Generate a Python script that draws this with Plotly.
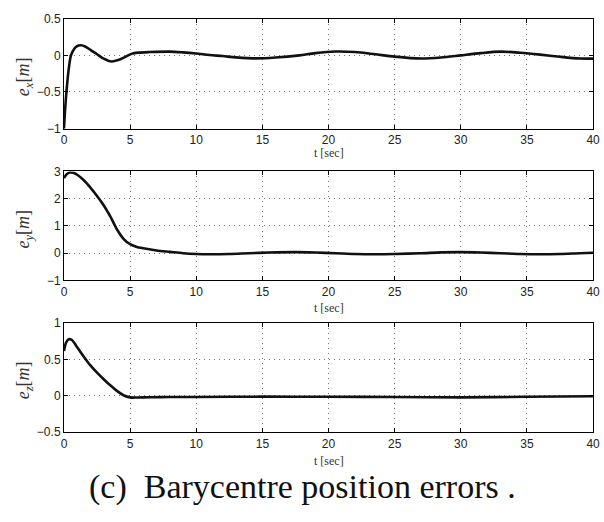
import plotly.graph_objects as go

# ---- data ----
t_x = [0, 0.1, 0.2, 0.3, 0.4, 0.5, 0.65, 0.85, 1.1, 1.3, 1.6, 2.0, 2.5, 3.0, 3.6, 4.1, 4.6, 5.1, 5.6,
       6.5, 8, 9, 10, 11, 12, 13, 14.5, 16, 17.8, 19, 20.5, 22, 23.5, 25, 27, 28.5, 30, 31.5, 33,
       34.5, 36, 37.5, 39, 40]
e_x = [-1.0, -0.7, -0.47, -0.28, -0.13, -0.02, 0.05, 0.105, 0.133, 0.138, 0.12, 0.075, 0.015, -0.045,
       -0.084, -0.065, -0.025, 0.02, 0.037, 0.045, 0.05, 0.04, 0.025, 0.005, -0.01, -0.028, -0.042,
       -0.03, 0.0, 0.03, 0.052, 0.045, 0.015, -0.018, -0.044, -0.03, 0.0, 0.03, 0.05, 0.035, 0.01,
       -0.02, -0.044, -0.045]

t_y = [0, 0.2, 0.45, 0.7, 1.0, 1.5, 2.0, 2.5, 3.0, 3.5, 4.0, 4.5, 5.0, 5.5, 6, 7, 8, 9, 10, 11,
       12.5, 14, 15.5, 17.5, 19, 20.5, 22, 23.5, 25, 27, 28.5, 30, 31.5, 33, 34.5, 36, 37.5, 39, 40]
e_y = [2.76, 2.9, 2.96, 2.95, 2.88, 2.68, 2.41, 2.1, 1.76, 1.35, 0.88, 0.53, 0.33, 0.23, 0.18, 0.1,
       0.05, 0.0, -0.03, -0.04, -0.03, 0.0, 0.025, 0.04, 0.025, 0.0, -0.03, -0.04, -0.03, 0.0, 0.03,
       0.04, 0.025, 0.0, -0.03, -0.04, -0.03, 0.0, 0.015]

t_z = [0, 0.15, 0.35, 0.6, 1.0, 1.5, 2.0, 2.5, 3.0, 3.5, 4.0, 4.5, 5.0, 5.5, 6.5, 8, 10, 15, 20,
       25, 30, 35, 40]
e_z = [0.62, 0.73, 0.78, 0.77, 0.67, 0.54, 0.42, 0.32, 0.23, 0.146, 0.07, 0.01, -0.02, -0.022,
       -0.018, -0.015, -0.015, -0.01, -0.012, -0.015, -0.02, -0.012, -0.005]

x_ticks = [0, 5, 10, 15, 20, 25, 30, 35, 40]
y1_ticks = [-1, -0.5, 0, 0.5]
y2_ticks = [-1, 0, 1, 2, 3]
y3_ticks = [-0.5, 0, 0.5, 1]

y_labels = ["<i>e</i><sub><i>x</i></sub>[<i>m</i>]",
            "<i>e</i><sub><i>y</i></sub>[<i>m</i>]",
            "<i>e</i><sub><i>z</i></sub>[<i>m</i>]"]
x_label = "t [sec]"
caption = "(c)  Barycentre position errors ."

# ---- layout ----
W, H = 604, 522
x_dom = [62 / W, 600 / W]
tops_bottoms = [(12, 125), (169, 281), (325, 437)]
y_doms = [[1 - b / H, 1 - t / H] for t, b in tops_bottoms]
xlab_y = [150, 309, 467]

fig = go.Figure()
series = [(t_x, e_x), (t_y, e_y), (t_z, e_z)]
for i, (tt, vv) in enumerate(series):
    sfx = "" if i == 0 else str(i + 1)
    fig.add_trace(go.Scatter(x=tt, y=vv, mode="lines", xaxis="x" + sfx, yaxis="y" + sfx,
                             line=dict(color="#111111", width=2.6, shape="spline", smoothing=0.8),
                             showlegend=False, hoverinfo="skip"))

tick_font = dict(family="Liberation Sans, Arial, sans-serif", size=12, color="#222222")
common = dict(showline=True, linecolor="#000000", linewidth=1, mirror="ticks",
              ticks="inside", ticklen=4, tickcolor="#000000", tickwidth=1,
              showgrid=True, gridcolor="#777777", griddash="1px,4px", gridwidth=1,
              zeroline=False, tickfont=tick_font, fixedrange=True,
              ticklabeloverflow="allow")

yranges = [[-1, 0.5], [-1, 3], [-0.5, 1]]
yticks = [y1_ticks, y2_ticks, y3_ticks]
layout = dict(width=W, height=H, margin=dict(l=0, r=0, t=0, b=0),
              paper_bgcolor="white", plot_bgcolor="white")
for i in range(3):
    sfx = "" if i == 0 else str(i + 1)
    layout["xaxis" + sfx] = dict(domain=x_dom, range=[0, 40], tickvals=x_ticks,
                                 anchor="y" + sfx, **common)
    layout["yaxis" + sfx] = dict(domain=y_doms[i], range=yranges[i], tickvals=yticks[i],
                                 anchor="x" + sfx, **common)
fig.update_layout(**layout)

serif = "Liberation Serif, DejaVu Serif, serif"
for i in range(3):
    t, b = tops_bottoms[i]
    fig.add_annotation(x=22 / W, y=1 - ((t + b) / 2 + 3) / H, xref="paper", yref="paper",
                       text=y_labels[i], textangle=-90, showarrow=False,
                       font=dict(family=serif, size=18, color="#333333"),
                       xanchor="center", yanchor="middle")
    fig.add_annotation(x=331 / W, y=1 - xlab_y[i] / H, xref="paper", yref="paper",
                       text=x_label, showarrow=False,
                       font=dict(family=serif, size=12, color="#333333"),
                       xanchor="center", yanchor="middle")

fig.add_annotation(x=305 / W, y=1 - 493 / H, xref="paper", yref="paper",
                   text=caption, showarrow=False,
                   font=dict(family=serif, size=34, color="#111111"),
                   xanchor="center", yanchor="middle")

fig.write_html("out.html")
